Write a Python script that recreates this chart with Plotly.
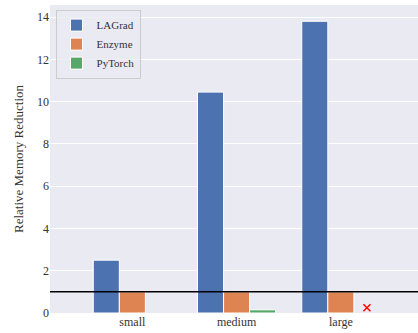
import plotly.graph_objects as go

categories = ["small", "medium", "large"]
lagrad = [2.5, 10.45, 13.8]
enzyme = [1.0, 1.0, 1.0]
pytorch = [None, 0.15, None]
# PyTorch could not run the large case; marked with a cross
failed_x = [2]
failed_y = [0.25]
baseline = 1.0

colors = {"LAGrad": "#4C72B0", "Enzyme": "#DD8452", "PyTorch": "#55A868"}
xs = list(range(len(categories)))
serif = "Liberation Serif, Times New Roman, DejaVu Serif, serif"

fig = go.Figure()
for name, vals in [("LAGrad", lagrad), ("Enzyme", enzyme), ("PyTorch", pytorch)]:
    fig.add_trace(go.Bar(
        x=xs, y=vals, name=name,
        marker=dict(color=colors[name], line=dict(color="white", width=1)),
    ))

fig.add_trace(go.Scatter(
    x=[v + 0.25 for v in failed_x], y=failed_y, mode="markers",
    marker=dict(symbol="x-thin", size=7, line=dict(color="red", width=1.5)),
    showlegend=False,
))

fig.add_hline(y=baseline, line=dict(color="black", width=1.5))

fig.update_layout(
    width=418, height=333,
    margin=dict(l=50, r=0, t=5, b=20),
    paper_bgcolor="white",
    plot_bgcolor="#EAEAF2",
    barmode="group",
    bargap=0.25,
    bargroupgap=0,
    font=dict(family=serif, size=12, color="#333333"),
    legend=dict(
        x=0.015, y=0.985, xanchor="left", yanchor="top",
        bgcolor="rgba(234,234,242,0.8)", bordercolor="#cccccc", borderwidth=1,
        font=dict(family=serif, size=11, color="#333333"),
        itemwidth=30,
    ),
    xaxis=dict(
        tickvals=xs, ticktext=categories, range=[-0.79, 2.74],
        showgrid=False, zeroline=False, ticks="", ticklen=0,
        tickfont=dict(family=serif, size=12),
    ),
    yaxis=dict(
        title=dict(text="Relative Memory Reduction", font=dict(family=serif, size=13), standoff=10),
        range=[0, 14.57], tickvals=[0, 2, 4, 6, 8, 10, 12, 14],
        gridcolor="white", gridwidth=1, zeroline=False, ticks="",
        tickfont=dict(family=serif, size=12),
    ),
)

fig.write_html("out.html")
